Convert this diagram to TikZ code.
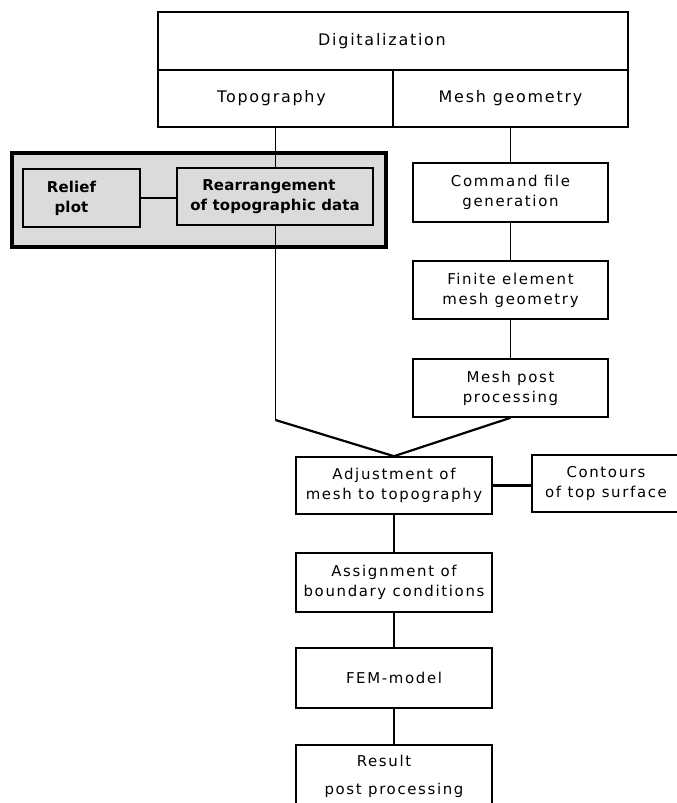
\documentclass[tikz,border=0pt]{standalone}
\usepackage{fontspec}
\setmainfont{DejaVu Sans}[LetterSpace=11]
\newfontfamily\greylabelfont{DejaVu Sans}[LetterSpace=1]
\pgfdeclarelayer{shade}
\pgfdeclarelayer{wires}
\pgfsetlayers{shade,wires,main}
\tikzset{
  blk/.style={draw, line width=1.6bp, fill=white, inner sep=0pt, align=center,
    font=\fontsize{15}{20}\selectfont},
  headblk/.style={blk, font=\fontsize{16}{20}\selectfont},
  greyblk/.style={blk, fill=black!14, line width=1.4bp,
    font=\greylabelfont\fontsize{15}{20}\selectfont\bfseries},
  frameblk/.style={draw, line width=3.2bp, fill=black!14, inner sep=0pt},
  wire/.style={line width=1.3bp},
  heavywire/.style={line width=2.2bp},
}
\begin{document}
\begin{tikzpicture}[x=1bp, y=-1bp]
\useasboundingbox (0,0) rectangle (677,803);
\clip (0,0) rectangle (677,803);

% header block: digitalization split into two branches
\node[headblk, minimum width=470bp, minimum height=58bp] (dig)   at (393,41)     {Digitalization\hspace*{22bp}};
\node[headblk, minimum width=235bp, minimum height=57bp] (topo)  at (275.5,98.5) {Topography\hspace*{8bp}};
\node[headblk, minimum width=235bp, minimum height=57bp] (meshg) at (510.5,98.5) {Mesh geometry};

% shaded frame around the topographic preprocessing
\begin{pgfonlayer}{shade}
\node[frameblk, minimum width=374bp, minimum height=94bp] (frame) at (199,200) {};
\end{pgfonlayer}
\node[greyblk, minimum width=117bp, minimum height=58bp] (relief) at (81.5,198)  {Relief\hspace*{20bp}\\plot\hspace*{20bp}};
\node[greyblk, minimum width=196bp, minimum height=57bp] (rearr)  at (275,196.5) {Rearrangement\hspace*{12bp}\\of topographic data};

% mesh branch
\node[blk, minimum width=195bp, minimum height=59bp] (cmd)   at (510.5,192.5) {Command file\\generation};
\node[blk, minimum width=195bp, minimum height=58bp] (fin)   at (510.5,290)   {Finite element\\mesh geometry};
\node[blk, minimum width=195bp, minimum height=58bp] (mpost) at (510.5,388)   {Mesh post\\processing};

% merged chain
\node[blk, minimum width=196bp, minimum height=57bp] (adj)    at (394,485.5) {Adjustment of\\mesh to topography};
\node[blk, minimum width=148bp, minimum height=57bp] (cont)   at (606,483.5) {Contours\\of top surface};
\node[blk, minimum width=196bp, minimum height=59bp] (assign) at (394,582.5) {Assignment of\\boundary conditions};
\node[blk, minimum width=196bp, minimum height=60bp] (fem)    at (394,678)   {FEM-model};
\node[blk, minimum width=196bp, minimum height=62bp, font=\fontsize{15}{28}\selectfont] (result) at (394,776) {Result\hspace*{20bp}\\post processing};

\begin{pgfonlayer}{wires}
\coordinate (bend) at (topo.south |- 0,420);
\draw[wire] (topo.south) -- (bend);
\draw[heavywire] (bend) -- (adj.north);
\draw[heavywire] (mpost.south) -- (adj.north);
\draw[wire] (meshg.south) -- (cmd.north);
\draw[wire] (cmd.south) -- (fin.north);
\draw[wire] (fin.south) -- (mpost.north);
\draw[heavywire] (relief.east) -- (rearr.west |- relief.east);
\draw[heavywire] (adj.east) -- (cont.west |- adj.east);
\draw[wire] (adj.south) -- (assign.north);
\draw[wire] (assign.south) -- (fem.north);
\draw[wire] (fem.south) -- (result.north);
\end{pgfonlayer}
\end{tikzpicture}
\end{document}
